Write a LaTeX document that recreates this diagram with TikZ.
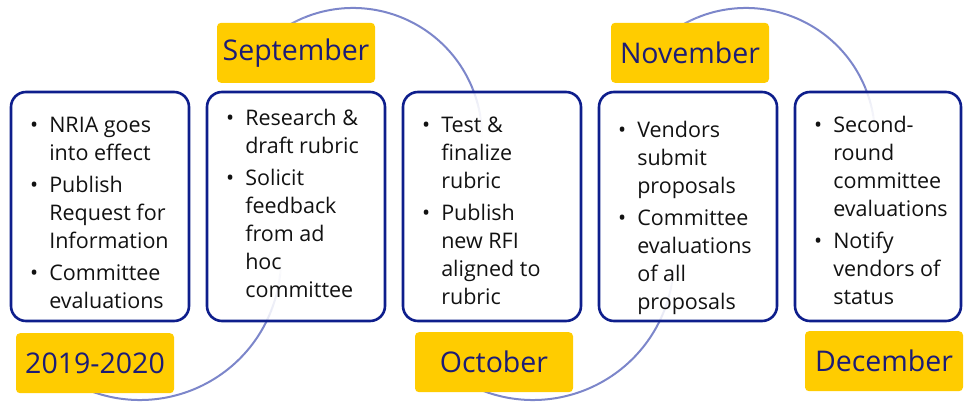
\documentclass[tikz,border=0pt]{standalone}
\usepackage{fontspec}
\setmainfont{Open Sans}
\usetikzlibrary{positioning}
\definecolor{tlnavy}{RGB}{14, 30, 140}
\definecolor{tlgold}{RGB}{255, 204, 0}
\definecolor{tlink}{RGB}{28, 28, 118}
\definecolor{tlarc}{RGB}{124, 134, 202}
\definecolor{tltext}{RGB}{18, 18, 18}

% arc that fades out at both ends
% #1 centre, #2 radius, #3 first angle, #4 solid from, #5 solid to, #6 last angle
\newcommand{\fadedarc}[6]{%
  \draw[arcline] (#1) ++(#4:#2) arc[start angle=#4, end angle=#5, radius=#2];
  \foreach \k in {0,...,11}{%
    \pgfmathsetmacro\opa{(\k+0.5)/12}
    \pgfmathsetmacro\angA{#3+(#4-#3)*\k/12}
    \pgfmathsetmacro\angB{#3+(#4-#3)*(\k+1)/12}
    \draw[arcline, draw opacity=\opa]
      (#1) ++(\angA:#2) arc[start angle=\angA, end angle=\angB, radius=#2];
    \pgfmathsetmacro\angA{#6-(#6-#5)*\k/12}
    \pgfmathsetmacro\angB{#6-(#6-#5)*(\k+1)/12}
    \draw[arcline, draw opacity=\opa]
      (#1) ++(\angA:#2) arc[start angle=\angA, end angle=\angB, radius=#2];
  }%
}

\begin{document}
\begin{tikzpicture}[
  x=1pt, y=1pt,
  phase/.style={draw=tlnavy, line width=2.6pt, rounded corners=15pt,
                fill=white, fill opacity=0.82, outer sep=0pt, inner sep=0pt,
                minimum width=178pt, minimum height=229pt},
  tasks/.style={anchor=north west, inner sep=0pt, text=tltext,
                font=\fontsize{21.5}{28}\selectfont},
  month/.style={fill=tlgold, rounded corners=4pt, inner sep=0pt,
                minimum width=158pt, minimum height=60pt,
                text=tlink, font=\fontsize{28.5}{34}\selectfont},
  arcline/.style={draw=tlarc, line width=2pt}
]
\useasboundingbox (0,0) rectangle (964,402);

% ── Connecting arcs ──────────────────────────────────────────────────────────
\fadedarc{353,265}{129}{0}{22}{112}{150}
\fadedarc{140,143}{141}{215}{250}{335}{360}
\fadedarc{746,265}{129}{0}{22}{112}{150}
\fadedarc{533,143}{141}{215}{250}{335}{360}

% ── Phase boxes ──────────────────────────────────────────────────────────────
\node[phase] (box1) at (100,195.5) {};
\node[phase, right=18pt of box1] (box2) {};
\node[phase, right=18pt of box2] (box3) {};
\node[phase, right=18pt of box3] (box4) {};
\node[phase, right=18pt of box4, minimum width=166pt] (box5) {};

% ── Task lists ───────────────────────────────────────────────────────────────
\node[tasks] (tasks1) at ([xshift=19pt, yshift=-20.4pt]box1.north west)
  {\begin{tabular}{@{}l@{\hspace{11pt}}l@{}}
    \textbullet & NRIA goes\\ & into effect\\[4pt]
    \textbullet & Publish\\ & Request for\\ & Information\\[4pt]
    \textbullet & Committee\\ & evaluations
  \end{tabular}};

\node[tasks] (tasks2) at ([xshift=19pt, yshift=-13.4pt]box2.north west)
  {\begin{tabular}{@{}l@{\hspace{11pt}}l@{}}
    \textbullet & Research \&\\ & draft rubric\\[4pt]
    \textbullet & Solicit\\ & feedback\\ & from ad\\ & hoc\\ & committee
  \end{tabular}};

\node[tasks] (tasks3) at ([xshift=19pt, yshift=-20.4pt]box3.north west)
  {\begin{tabular}{@{}l@{\hspace{11pt}}l@{}}
    \textbullet & Test \&\\ & finalize\\ & rubric\\[4pt]
    \textbullet & Publish\\ & new RFI\\ & aligned to\\ & rubric
  \end{tabular}};

\node[tasks] (tasks4) at ([xshift=19pt, yshift=-25.4pt]box4.north west)
  {\begin{tabular}{@{}l@{\hspace{11pt}}l@{}}
    \textbullet & Vendors\\ & submit\\ & proposals\\[4pt]
    \textbullet & Committee\\ & evaluations\\ & of all\\ & proposals
  \end{tabular}};

\node[tasks] (tasks5) at ([xshift=19pt, yshift=-20.4pt]box5.north west)
  {\begin{tabular}{@{}l@{\hspace{11pt}}l@{}}
    \textbullet & Second-\\ & round\\ & committee\\ & evaluations\\[4pt]
    \textbullet & Notify\\ & vendors of\\ & status
  \end{tabular}};

% ── Month labels ─────────────────────────────────────────────────────────────
\node[month, below=12pt of box1, xshift=-5pt] (y2019) {2019-2020};
\node[month, above=9pt of box2] (sep) {September};
\node[month, below=11pt of box3, xshift=2pt] (oct) {October};
\node[month, above=9pt of box4, xshift=2pt] (nov) {November};
\node[month, below=10pt of box5, xshift=6pt] (dec) {December};

\end{tikzpicture}
\end{document}
